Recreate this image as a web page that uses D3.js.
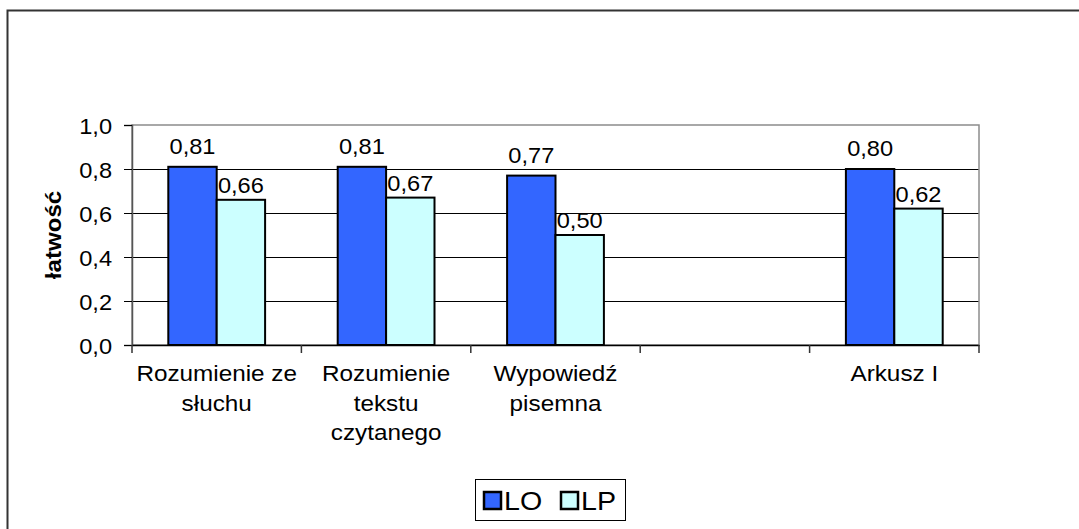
<!DOCTYPE html>
<html>
<head>
<meta charset="utf-8">
<script src="https://cdn.jsdelivr.net/npm/d3@7"></script>
<style>
  html, body { margin: 0; padding: 0; background: #fff; }
  svg { display: block; font-family: Arial, "Liberation Sans", sans-serif; }
</style>
</head>
<body>
<div id="chart"></div>
<script>
const WIDTH = 1079;
const HEIGHT = 529;
const PLOT = { left: 132, right: 979, top: 125, bottom: 345 };
const FONT = 22.5;
const SX = 1.05; // glyphs in the reference are a bit wider than Arial

const categories = ["Rozumienie ze słuchu", "Rozumienie tekstu czytanego", "Wypowiedź pisemna", "", "Arkusz I"];
const categoryLines = [["Rozumienie ze", "słuchu"], ["Rozumienie", "tekstu", "czytanego"], ["Wypowiedź", "pisemna"], [], ["Arkusz I"]];
const seriesNames = ["LO", "LP"];
const valuesLO = [0.81, 0.81, 0.77, null, 0.80];
const valuesLP = [0.66, 0.67, 0.50, null, 0.62];
const yTicks = [0, 0.2, 0.4, 0.6, 0.8, 1.0];
const colors = { LO: "#3366ff", LP: "#ccffff" };

const fmt = (v) => v.toFixed(2).replace(".", ",");

const rows = [];
categories.forEach((c, i) => {
  if (valuesLO[i] != null) rows.push({ idx: i, series: "LO", value: valuesLO[i] });
  if (valuesLP[i] != null) rows.push({ idx: i, series: "LP", value: valuesLP[i] });
});

const svg = d3.select("#chart").append("svg")
  .attr("width", WIDTH).attr("height", HEIGHT)
  .attr("viewBox", `0 0 ${WIDTH} ${HEIGHT}`);

// outer chart frame (right and bottom edges fall outside the picture)
svg.append("rect")
  .attr("x", 7.5).attr("y", 10.5)
  .attr("width", WIDTH + 20).attr("height", HEIGHT + 20)
  .attr("fill", "#fff").attr("stroke", "#333").attr("stroke-width", 2);

const x = d3.scaleBand()
  .domain(categories.map((c, i) => i))
  .range([PLOT.left, PLOT.right])
  .padding(0);

// Excel-like gap width 150%
const bw = x.bandwidth();
const barW = bw / 3.5;
const x1 = d3.scaleBand().domain(seriesNames).range([barW * 0.75, barW * 2.75]);

const y = d3.scaleLinear().domain([0, 1]).range([PLOT.bottom, PLOT.top]);

// gridlines
svg.append("g")
  .selectAll("line")
  .data(yTicks.filter((t) => t > 0 && t < 1))
  .join("line")
  .attr("x1", PLOT.left).attr("x2", PLOT.right)
  .attr("y1", (d) => Math.round(y(d)) + 0.5).attr("y2", (d) => Math.round(y(d)) + 0.5)
  .attr("stroke", "#000").attr("stroke-width", 1);

// plot area border (top and right are gray)
svg.append("rect")
  .attr("x", PLOT.left).attr("y", PLOT.top)
  .attr("width", PLOT.right - PLOT.left).attr("height", PLOT.bottom - PLOT.top)
  .attr("fill", "none").attr("stroke", "#8c8c8c").attr("stroke-width", 1.5);

// bars
svg.append("g")
  .selectAll("rect")
  .data(rows)
  .join("rect")
  .attr("x", (d) => x(d.idx) + x1(d.series))
  .attr("y", (d) => y(d.value))
  .attr("width", x1.bandwidth())
  .attr("height", (d) => y(0) - y(d.value))
  .attr("fill", (d) => colors[d.series])
  .attr("stroke", "#000").attr("stroke-width", 2);

// stretched text helper
function label(g, px, py, txt, opts = {}) {
  const t = g.append("text")
    .attr("transform", `translate(${px},${py})${opts.rotate ? ` rotate(${opts.rotate})` : ""} scale(${opts.sx || SX},1)`)
    .attr("text-anchor", opts.anchor || "middle")
    .attr("font-size", opts.size || FONT)
    .attr("font-weight", opts.weight || "normal")
    .attr("fill", "#000")
    .text(txt);
  return t;
}

// data labels
const labels = svg.append("g");
rows.forEach((d) => {
  const cx = x(d.idx) + x1(d.series) + x1.bandwidth() / 2;
  const off = d.series === "LO" ? 13 : 7;
  label(labels, cx, y(d.value) - off, fmt(d.value));
});

// y axis
const yAxis = d3.axisLeft(y).tickValues(yTicks).tickSize(8).tickPadding(0)
  .tickFormat((d) => d.toFixed(1).replace(".", ","));
svg.append("g")
  .attr("transform", `translate(${PLOT.left},0)`)
  .call(yAxis)
  .call((g) => g.select(".domain").attr("stroke", "#555").attr("stroke-width", 1.5))
  .call((g) => g.selectAll(".tick line").attr("stroke", "#000"))
  .call((g) => g.selectAll(".tick text")
    .attr("font-size", FONT).attr("font-family", "Arial, 'Liberation Sans', sans-serif")
    .attr("fill", "#000").attr("dy", "0.36em")
    .attr("x", -20 / SX).attr("transform", `scale(${SX},1)`));

// x axis: ticks at category boundaries
const xAxis = d3.axisBottom(x).tickValues([]).tickSizeOuter(0);
svg.append("g")
  .attr("transform", `translate(0,${PLOT.bottom})`)
  .call(xAxis)
  .call((g) => g.select(".domain").attr("stroke", "#000").attr("stroke-width", 1.5));

svg.append("g")
  .selectAll("line")
  .data(d3.range(categories.length + 1))
  .join("line")
  .attr("x1", (i) => PLOT.left + i * bw).attr("x2", (i) => PLOT.left + i * bw)
  .attr("y1", PLOT.bottom).attr("y2", PLOT.bottom + 8)
  .attr("stroke", "#333").attr("stroke-width", 1.5);

// category labels
const cats = svg.append("g");
categoryLines.forEach((lines, i) => {
  lines.forEach((ln, j) => {
    label(cats, x(i) + bw / 2, 381 + j * 29.5, ln, { sx: 1.08 });
  });
});

// y title
label(svg, 61, (PLOT.top + PLOT.bottom) / 2, "łatwość", { rotate: -90, weight: "bold", sx: 1.07 });

// legend
const legend = svg.append("g");
legend.append("rect")
  .attr("x", 475.5).attr("y", 479.5).attr("width", 150).attr("height", 41)
  .attr("fill", "#fff").attr("stroke", "#000").attr("stroke-width", 1);
const legendX = { LO: 484, LP: 561 };
seriesNames.forEach((s) => {
  legend.append("rect")
    .attr("x", legendX[s]).attr("y", 492).attr("width", 17).attr("height", 17)
    .attr("fill", colors[s]).attr("stroke", "#000").attr("stroke-width", 2.5);
  label(legend, legendX[s] + 20, 510, s, { anchor: "start", size: 26, sx: 1.1 });
});
</script>
</body>
</html>
